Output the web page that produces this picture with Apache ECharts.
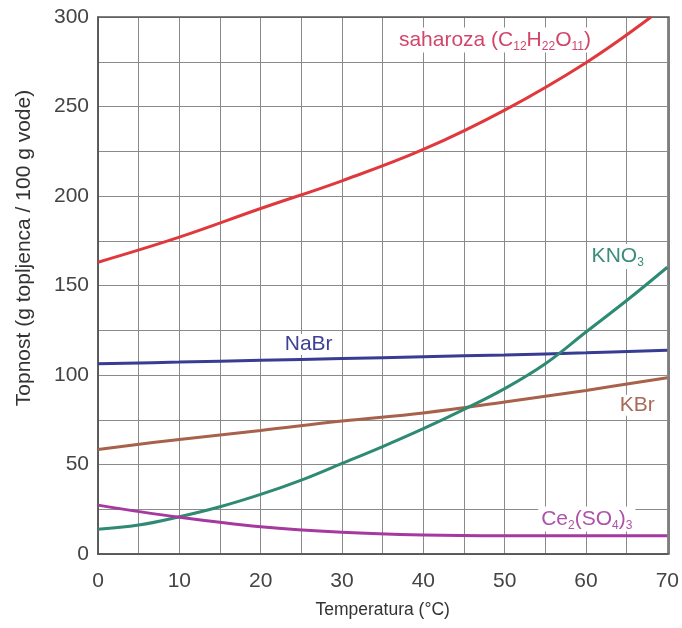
<!DOCTYPE html>
<html>
<head>
<meta charset="utf-8">
<script src="https://cdn.jsdelivr.net/npm/echarts@6/dist/echarts.min.js"></script>
<style>
  html, body { margin: 0; padding: 0; background: #fff; }
  #main { width: 682px; height: 628px; }
</style>
</head>
<body>
<div id="main"></div>
<script>
// temperature (°C) and solubility (g / 100 g water)
var saharozaT = [0, 10, 20, 30, 40, 50, 60, 68];
var saharoza  = [163, 177, 193, 208.5, 226, 248, 274.5, 300];

var nabrT = [0, 10, 20, 30, 40, 50, 60, 70];
var nabr  = [106.3, 107.2, 108.2, 109.2, 110.2, 111.2, 112.4, 113.8];

var kbrT = [0, 10, 20, 30, 40, 50, 60, 70];
var kbr  = [58.4, 64, 69, 74.3, 78.8, 84.9, 91.4, 98.5];

var kno3T = [0, 5, 10, 15, 20, 25, 30, 35, 40, 45, 50, 55, 60, 65, 70];
var kno3  = [13.8, 16.2, 20.8, 26.4, 33.3, 41.3, 50.6, 60, 70, 80.8, 92.4, 106.3, 124, 141.6, 160.2];

var ceT = [0, 10, 20, 30, 40, 50, 60, 70];
var ce  = [27.3, 20.5, 15.2, 12.1, 10.6, 10.2, 10.2, 10.2];

function pairs(xs, ys) {
    var out = [];
    for (var i = 0; i < xs.length; i++) out.push([xs[i], ys[i]]);
    return out;
}

var FONT = '"Liberation Sans", Arial, sans-serif';

// label drawn as an invisible markPoint, white box behind the text
function tag(x, y, fmt, color) {
    return {
        symbol: 'circle',
        symbolSize: 1,
        silent: true,
        itemStyle: { color: 'rgba(0,0,0,0)' },
        data: [{ coord: [x, y] }],
        label: {
            show: true,
            position: 'inside',
            formatter: fmt,
            color: color,
            fontSize: 21,
            fontFamily: FONT,
            backgroundColor: '#fff',
            padding: [0, 3],
            rich: {
                sub: { fontSize: 12, color: color, fontFamily: FONT, padding: [13, 0, 0, 0] }
            }
        }
    };
}

function line(name, data, color, mark) {
    return {
        name: name,
        type: 'line',
        data: data,
        smooth: 0.4,
        showSymbol: false,
        clip: true,
        lineStyle: { color: color, width: 3 },
        itemStyle: { color: color },
        markPoint: mark,
        z: 3
    };
}

var myChart = echarts.init(document.getElementById('main'));
myChart.setOption({
    animation: false,
    backgroundColor: '#fff',
    grid: { left: 98, right: 13, top: 17, bottom: 74 },
    xAxis: {
        type: 'value',
        min: 0, max: 70, interval: 5,
        name: 'Temperatura (°C)',
        nameLocation: 'middle',
        nameGap: 47,
        nameTextStyle: { fontSize: 17.5, color: '#333', fontFamily: FONT },
        axisLine: { show: true, onZero: false, lineStyle: { color: '#555', width: 1.5 } },
        axisTick: { show: false },
        axisLabel: {
            fontSize: 21, color: '#444', fontFamily: FONT, margin: 17,
            formatter: function (v) { return v % 10 === 0 ? v : ''; }
        },
        splitLine: { show: true, lineStyle: { color: '#8a8a8a', width: 1 } }
    },
    yAxis: {
        type: 'value',
        min: 0, max: 300, interval: 25,
        axisLine: { show: true, lineStyle: { color: '#555', width: 1.5 } },
        axisTick: { show: false },
        axisLabel: {
            fontSize: 21, color: '#444', fontFamily: FONT, margin: 9,
            formatter: function (v) { return v % 50 === 0 ? v : ''; }
        },
        splitLine: { show: true, lineStyle: { color: '#8a8a8a', width: 1 } }
    },
    graphic: [{
        // right/top frame
        type: 'rect',
        shape: { x: 98, y: 17, width: 571, height: 537 },
        style: { fill: 'none', stroke: '#555', lineWidth: 1.5 },
        silent: true, z: 1
    }, {
        // y axis title
        type: 'text',
        x: 24, y: 248,
        rotation: Math.PI / 2,
        style: {
            text: 'Topnost (g topljenca / 100 g vode)',
            fill: '#333',
            font: '21px ' + FONT,
            align: 'center',
            verticalAlign: 'middle'
        },
        silent: true
    }],
    series: [
        line('saharoza', pairs(saharozaT, saharoza), '#e0393d',
            tag(48.8, 287.2, 'saharoza (C{sub|12}H{sub|22}O{sub|11})', '#d2456a')),
        line('NaBr', pairs(nabrT, nabr), '#383c92',
            tag(25.9, 117.1, 'NaBr', '#3d4194')),
        line('KBr', pairs(kbrT, kbr), '#a8614b',
            tag(66.3, 83.1, 'KBr', '#a86a58')),
        line('KNO3', pairs(kno3T, kno3), '#2e8a72',
            tag(63.9, 166.2, 'KNO{sub|3}', '#3c8c78')),
        line('Ce2(SO4)3', pairs(ceT, ce), '#a5399f',
            tag(60.1, 19.5, 'Ce{sub|2}(SO{sub|4}){sub|3}', '#ad52a8'))
    ]
});
</script>
</body>
</html>
